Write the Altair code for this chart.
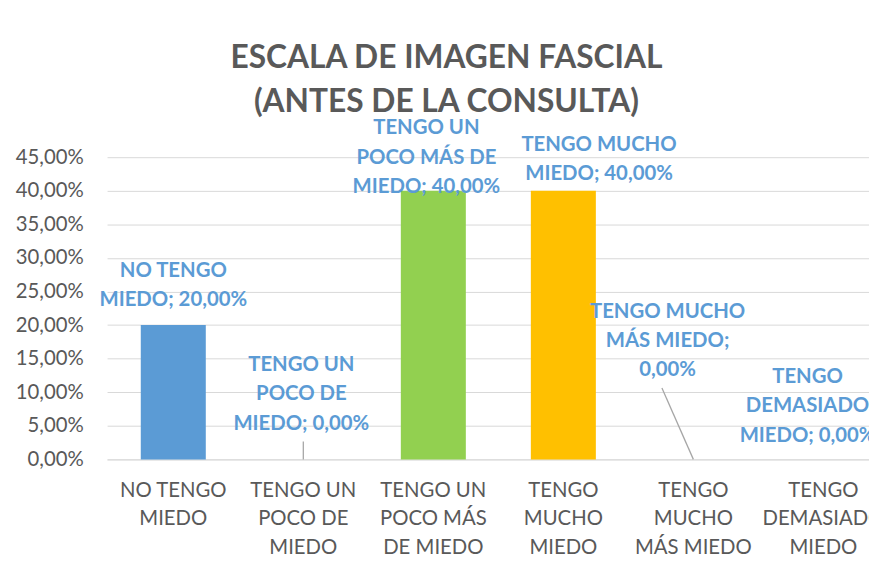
import json
import altair as alt
import pandas as pd

categories = ["NO TENGO MIEDO", "TENGO UN POCO DE MIEDO", "TENGO UN POCO MÁS DE MIEDO",
              "TENGO MUCHO MIEDO", "TENGO MUCHO MÁS MIEDO", "TENGO DEMASIADO MIEDO"]
values = [0.20, 0.0, 0.40, 0.40, 0.0, 0.0]
bar_colors = ["#5B9BD5", "#ED7D31", "#92D050", "#FFC000", "#A5A5A5", "#4472C4"]
label_texts = ["NO TENGO\nMIEDO; 20,00%", "TENGO UN\nPOCO DE\nMIEDO; 0,00%",
               "TENGO UN\nPOCO MÁS DE\nMIEDO; 40,00%", "TENGO MUCHO\nMIEDO; 40,00%",
               "TENGO MUCHO\nMÁS MIEDO;\n0,00%", "TENGO\nDEMASIADO\nMIEDO; 0,00%"]
axis_lines = [["NO TENGO", "MIEDO"], ["TENGO UN", "POCO DE", "MIEDO"],
              ["TENGO UN", "POCO MÁS", "DE MIEDO"], ["TENGO", "MUCHO", "MIEDO"],
              ["TENGO", "MUCHO", "MÁS MIEDO"], ["TENGO", "DEMASIADO", "MIEDO"]]
y_ticks = [0.0, 0.05, 0.10, 0.15, 0.20, 0.25, 0.30, 0.35, 0.40, 0.45]

# label placement offsets (pixels): dx, dy of first label line from bar top
label_offsets = [(0, -55), (-2, -95), (-7, -63), (36, -46), (-26, -149), (-16, -83)]

df = pd.DataFrame({"cat": categories, "value": values, "label": label_texts})

FONT = "Lato"
GREY = "#595959"
LBLUE = "#5B9BD5"

label_map = json.dumps(dict(zip(categories, axis_lines)), ensure_ascii=False)

x_enc = alt.X("cat:N", sort=categories,
              scale=alt.Scale(paddingInner=0.5, paddingOuter=0.18, align=0.72, round=False),
              axis=alt.Axis(title=None, labelAngle=0, ticks=False, labelFont=FONT,
                            labelFontSize=20.5, labelColor=GREY, labelLineHeight=29,
                            labelPadding=21, labelBaseline="top",
                            labelExpr=label_map + "[datum.label]",
                            domainColor="#D9D9D9", grid=False, labelLimit=200))
y_enc = alt.Y("value:Q", scale=alt.Scale(domain=[0, 0.45], nice=False),
              axis=alt.Axis(title=None, values=y_ticks, domain=False, ticks=False,
                            labelFont=FONT, labelFontSize=20.5, labelColor=GREY,
                            labelPadding=24, gridColor="#D9D9D9", labelOverlap=False,
                            labelExpr="replace(format(datum.value, '.2%'), '.', ',')"))

base = alt.Chart(df)

bars = base.mark_bar().encode(
    x=x_enc, y=y_enc,
    color=alt.Color("cat:N", scale=alt.Scale(domain=categories, range=bar_colors), legend=None),
)

layers = [bars]

# leader lines
lead2 = base.transform_filter(alt.datum.cat == categories[1]).mark_rule(
    color="#A6A6A6", strokeWidth=1.3).encode(x=x_enc, y=y_enc, y2=alt.value(287))
lead5 = base.transform_filter(alt.datum.cat == categories[4]).mark_rule(
    color="#A6A6A6", strokeWidth=1.3).encode(x=x_enc, y=y_enc,
                                             x2=alt.value(560), y2=alt.value(233))
layers += [lead2, lead5]

for cat, (dx, dy) in zip(categories, label_offsets):
    layers.append(
        base.transform_filter(alt.datum.cat == cat).mark_text(
            dx=dx, dy=dy, lineBreak="\n", lineHeight=29.5, font=FONT, fontSize=20.5,
            fontWeight="bold", color=LBLUE, align="center", baseline="middle"
        ).encode(x=x_enc, y=y_enc, text="label:N")
    )

chart = alt.layer(*layers).properties(
    width=769, height=305,
    title=alt.Title(["ESCALA DE IMAGEN FASCIAL", "(ANTES DE LA CONSULTA)"],
                    font=FONT, fontSize=32, fontWeight="bold", color=GREY,
                    anchor="middle", frame="group", dx=-42, offset=-1, lineHeight=45),
    autosize=alt.AutoSizeParams(type="none"),
    padding={"left": 100, "top": 148, "right": 0, "bottom": 101},
    background="white",
).configure_view(stroke=None)

chart.save("out.html", embed_options={"renderer": "svg", "actions": False})
